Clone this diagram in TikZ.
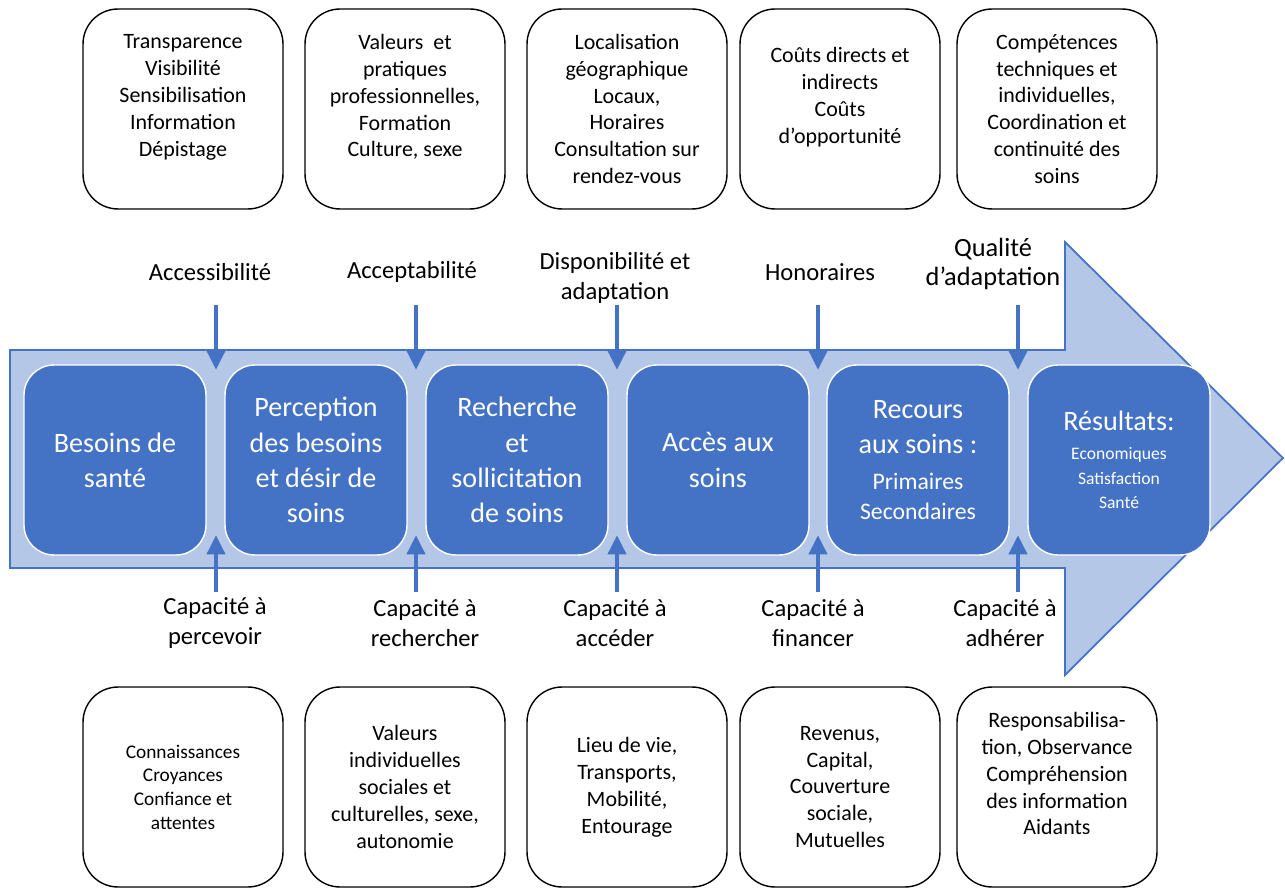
\documentclass[tikz,border=0pt]{standalone}
\usepackage{fontspec}
\setmainfont{Carlito}
\usepackage{xcolor}
\usetikzlibrary{arrows.meta}
\definecolor{bleu}{RGB}{68,114,196}
\definecolor{bleuclair}{RGB}{180,199,231}

\begin{document}
\begin{tikzpicture}[x=0.02cm, y=-0.02cm, >={Triangle[length=11pt,width=10pt]},
    box/.style={draw, line width=0.8pt, rounded corners=0.7cm, minimum width=4cm,
      minimum height=4cm, align=center, font=\fontsize{12.5}{15.3}\selectfont},
    stage/.style={draw=white, line width=0.8pt, fill=bleu, text=white, rounded corners=0.6cm,
      minimum width=3.64cm, minimum height=3.8cm, align=center, font=\fontsize{16}{20}\selectfont},
    lbl/.style={align=center, font=\fontsize{14}{17}\selectfont},
    flow/.style={->, draw=bleu, line width=2.8pt}]
  \useasboundingbox (0,0) rectangle (1285,888);
  \draw[draw=bleu, fill=bleuclair, line width=1pt] (10,350) -- (1065,350) -- (1065,242)
    -- (1283,458) -- (1065,675) -- (1065,568) -- (10,568) -- cycle;

  \node[box] (ftransp) at (183,109) {Transparence\\Visibilité\\Sensibilisation\\Information\\Dépistage\\ \mbox{}};
  \node[box] (fvaleurs) at (405,109) {Valeurs\ \ et\\pratiques\\professionnelles,\\Formation\\Culture, sexe\\ \mbox{}};
  \node[box] (flocal) at (627,109) {Localisation\\géographique\\Locaux,\\Horaires\\Consultation sur\\rendez-vous};
  \node[box] (fcouts) at (840,109) {Coûts directs et\\indirects\\Coûts\\d’opportunité\\ \mbox{}};
  \node[box] (fcomp) at (1057,109) {Compétences\\techniques et\\individuelles,\\Coordination et\\continuité des\\soins};

  \node[lbl] (acc) at (210,272) {Accessibilité};
  \node[lbl] (accept) at (412,272) {Acceptabilité};
  \node[lbl] (dispo) at (615,278) {Disponibilité et\\adaptation};
  \node[lbl] (hono) at (820,272) {Honoraires};
  \node[lbl, font=\fontsize{15}{17}\selectfont] (qual) at (993,264) {Qualité\\d’adaptation};

  \node[stage] (besoins) at (115,460) {Besoins de\\santé};
  \node[stage] (perception) at (316,460) {Perception\\des besoins\\et désir de\\soins};
  \node[stage] (recherche) at (517,460) {Recherche\\et\\sollicitation\\de soins};
  \node[stage] (acces) at (718,460) {Accès aux\\soins};
  \node[stage] (recours) at (918,460) {Recours\\aux soins :\\{\fontsize{13.5}{16}\selectfont Primaires}\\[-3pt]{\fontsize{13.5}{16}\selectfont Secondaires}};
  \node[stage] (resultats) at (1119,460) {Résultats:\\[-3.5pt]{\fontsize{10}{12.5}\selectfont Economiques}\\[-6pt]{\fontsize{10}{12.5}\selectfont Satisfaction}\\[-6pt]{\fontsize{10}{12.5}\selectfont Santé}};

  \node[lbl] (cperc) at (215,623) {Capacité à\\percevoir};
  \node[lbl] (crech) at (425,623) {Capacité à\\rechercher};
  \node[lbl] (cacc) at (615,623) {Capacité à\\accéder};
  \node[lbl] (cfin) at (813,623) {Capacité à\\financer};
  \node[lbl] (cadh) at (1005,623) {Capacité à\\adhérer};

  \node[box, font=\fontsize{11}{13.5}\selectfont] (fconn) at (183,787) {Connaissances\\Croyances\\Confiance et\\attentes};
  \node[box] (findiv) at (405,787) {Valeurs\\individuelles\\sociales et\\culturelles, sexe,\\autonomie};
  \node[box] (flieu) at (627,787) {Lieu de vie,\\Transports,\\Mobilité,\\Entourage};
  \node[box] (frevenus) at (840,787) {Revenus,\\Capital,\\Couverture\\sociale,\\Mutuelles};
  \node[box] (fresp) at (1057,787) {Responsabilisa-\\tion, Observance\\Compréhension\\des information\\Aidants\\ \mbox{}};

  \coordinate (d1) at (216,305);
  \coordinate (d2) at (416,305);
  \coordinate (d3) at (617,305);
  \coordinate (d4) at (818,305);
  \coordinate (d5) at (1018,305);
  \coordinate (e1) at (216,370);
  \coordinate (e2) at (416,370);
  \coordinate (e3) at (617,370);
  \coordinate (e4) at (818,370);
  \coordinate (e5) at (1018,370);
  \coordinate (m1) at (216,592);
  \coordinate (m2) at (416,592);
  \coordinate (m3) at (617,592);
  \coordinate (m4) at (818,592);
  \coordinate (m5) at (1018,592);
  \coordinate (n1) at (216,535);
  \coordinate (n2) at (416,535);
  \coordinate (n3) at (617,535);
  \coordinate (n4) at (818,535);
  \coordinate (n5) at (1018,535);

  \draw[flow] (d1) -- (e1);
  \draw[flow] (d2) -- (e2);
  \draw[flow] (d3) -- (e3);
  \draw[flow] (d4) -- (e4);
  \draw[flow] (d5) -- (e5);
  \draw[flow] (m1) -- (n1);
  \draw[flow] (m2) -- (n2);
  \draw[flow] (m3) -- (n3);
  \draw[flow] (m4) -- (n4);
  \draw[flow] (m5) -- (n5);
\end{tikzpicture}
\end{document}
